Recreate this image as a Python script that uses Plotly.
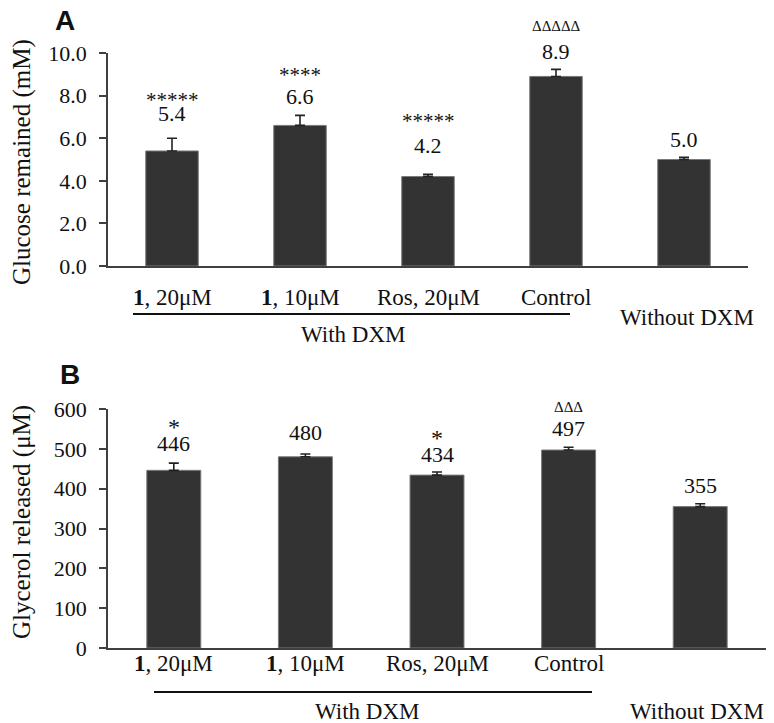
import plotly.graph_objects as go

# ---------------- data ----------------
categories = ["<b>1</b>, 20μM", "<b>1</b>, 10μM", "Ros, 20μM", "Control", ""]
glucose_vals = [5.4, 6.6, 4.2, 8.9, 5.0]
glucose_err = [0.6, 0.47, 0.1, 0.33, 0.1]
glucose_sig = ["*****", "****", "*****", "ΔΔΔΔΔ", ""]
glycerol_vals = [446, 480, 434, 497, 355]
glycerol_err = [18, 7, 8, 7, 7]
glycerol_sig = ["*", "", "*", "ΔΔΔ", ""]
glucose_ticks = [0, 2, 4, 6, 8, 10]
glycerol_ticks = [0, 100, 200, 300, 400, 500, 600]

W, H = 774, 723
OFF = 8  # page body margin
def px(x): return (x - OFF) / W
def py(y): return 1 - (y - OFF) / H

FONT = "Liberation Serif"
SANS = "Liberation Sans"
BAR = "#333333"
AX = "#404040"
TXT = "#111111"

fig = go.Figure()
xs = list(range(len(glucose_vals)))
fig.add_trace(go.Bar(x=xs, y=glucose_vals, width=0.41, marker=dict(color=BAR, line=dict(color="#7a7a7a", width=1)),
                     error_y=dict(type="data", symmetric=False, array=glucose_err, arrayminus=[0]*5,
                                  color="#222", thickness=1.6, width=5),
                     xaxis="x", yaxis="y", showlegend=False, hoverinfo="skip"))
fig.add_trace(go.Bar(x=xs, y=glycerol_vals, width=0.41, marker=dict(color=BAR, line=dict(color="#7a7a7a", width=1)),
                     error_y=dict(type="data", symmetric=False, array=glycerol_err, arrayminus=[0]*5,
                                  color="#222", thickness=1.6, width=5),
                     xaxis="x2", yaxis="y2", showlegend=False, hoverinfo="skip"))

axcommon = dict(showline=True, linecolor=AX, linewidth=1.5, showgrid=False, zeroline=False, automargin=False)
yextra = dict(ticks="outside", ticklen=7, tickwidth=1.5, tickcolor=AX, ticklabelstandoff=8,
              tickfont=dict(size=22, family=FONT, color=TXT))
fig.update_layout(
    template="none",
    width=W, height=H, margin=dict(l=0, r=0, t=0, b=0, pad=0, autoexpand=False),
    paper_bgcolor="white", plot_bgcolor="white",
    font=dict(family=FONT, color=TXT),
    xaxis=dict(domain=[px(108), px(748)], range=[-0.5, 4.5], anchor="y", showticklabels=False, ticks="", **axcommon),
    yaxis=dict(domain=[py(266), py(53)], range=[0, 10], anchor="x", tickvals=glucose_ticks,
               ticktext=[f"{v:.1f}" for v in glucose_ticks], **yextra, **axcommon),
    xaxis2=dict(domain=[px(108), px(766)], range=[-0.5, 4.5], anchor="y2", showticklabels=False, ticks="", **axcommon),
    yaxis2=dict(domain=[py(648), py(409)], range=[0, 600], anchor="x2", tickvals=glycerol_ticks,
                ticktext=[str(v) for v in glycerol_ticks], **yextra, **axcommon),
)

def tfont(size, family=FONT):
    return dict(size=size, family=family, color=TXT)

ann = []
shiftsA = [25, 19, 29, 18, 18]
starA = [16, 24, 27, 25, 0]
shiftsB = [20, 22, 17, 19, 18]
starB = [20, 21, 21, 21, 0]
for i in xs:
    ya = glucose_vals[i] + glucose_err[i]
    ann.append(dict(x=i, y=ya, xref="x", yref="y", text=f"{glucose_vals[i]:.1f}", showarrow=False,
                    xanchor="center", yanchor="middle", yshift=shiftsA[i], font=tfont(22)))
    if glucose_sig[i]:
        sz = 15 if "Δ" in glucose_sig[i] else 21
        ann.append(dict(x=i, y=ya, xref="x", yref="y", text=glucose_sig[i], showarrow=False,
                        xanchor="center", yanchor="middle", yshift=shiftsA[i] + starA[i] - (3 if "*" in glucose_sig[i] else 0),
                        font=tfont(sz)))
    yb = glycerol_vals[i] + glycerol_err[i]
    ann.append(dict(x=i, y=yb, xref="x2", yref="y2", text=f"{glycerol_vals[i]}", showarrow=False,
                    xanchor="center", yanchor="middle", yshift=shiftsB[i], font=tfont(22)))
    if glycerol_sig[i]:
        sz = 15 if "Δ" in glycerol_sig[i] else 24
        ann.append(dict(x=i, y=yb, xref="x2", yref="y2", text=glycerol_sig[i], showarrow=False,
                        xanchor="center", yanchor="middle", yshift=shiftsB[i] + starB[i] - (4 if "*" in glycerol_sig[i] else 0),
                        font=tfont(sz)))

for i, c in enumerate(categories):
    if not c:
        continue
    ann.append(dict(x=i, y=py(297), xref="x", yref="paper", text=c, showarrow=False,
                    xanchor="center", yanchor="middle", font=tfont(23)))
    ann.append(dict(x=i, y=py(663), xref="x2", yref="paper", text=c, showarrow=False,
                    xanchor="center", yanchor="middle", font=tfont(23)))

ann += [
    dict(x=px(353), y=py(335), xref="paper", yref="paper", text="With DXM", showarrow=False,
         xanchor="center", yanchor="middle", font=tfont(23)),
    dict(x=px(687), y=py(317), xref="paper", yref="paper", text="Without DXM", showarrow=False,
         xanchor="center", yanchor="middle", font=tfont(23)),
    dict(x=px(367), y=py(711), xref="paper", yref="paper", text="With DXM", showarrow=False,
         xanchor="center", yanchor="middle", font=tfont(23)),
    dict(x=px(697), y=py(711), xref="paper", yref="paper", text="Without DXM", showarrow=False,
         xanchor="center", yanchor="middle", font=tfont(23)),
    dict(x=px(22), y=py(162), xref="paper", yref="paper", text="Glucose remained (mM)", textangle=-90,
         xanchor="center", yanchor="middle", showarrow=False, font=tfont(25)),
    dict(x=px(22), y=py(522), xref="paper", yref="paper", text="Glycerol released (μM)", textangle=-90,
         xanchor="center", yanchor="middle", showarrow=False, font=tfont(25)),
    dict(x=px(65), y=py(20), xref="paper", yref="paper", text="<b>A</b>", showarrow=False,
         xanchor="center", yanchor="middle", font=tfont(28, SANS)),
    dict(x=px(70), y=py(374), xref="paper", yref="paper", text="<b>B</b>", showarrow=False,
         xanchor="center", yanchor="middle", font=tfont(28, SANS)),
]
fig.update_layout(annotations=ann)

fig.update_layout(shapes=[
    dict(type="line", xref="paper", yref="paper", x0=px(133), x1=px(570), y0=py(314), y1=py(314),
         line=dict(color=TXT, width=1.8)),
    dict(type="line", xref="paper", yref="paper", x0=px(154), x1=px(592), y0=py(692), y1=py(692),
         line=dict(color=TXT, width=1.8)),
])

fig.write_html("out.html")
